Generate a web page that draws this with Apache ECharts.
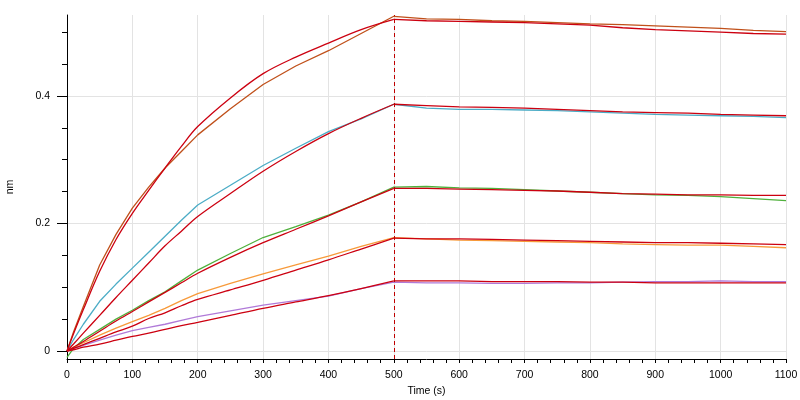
<!DOCTYPE html>
<html>
<head>
<meta charset="utf-8">
<script src="https://cdn.jsdelivr.net/npm/echarts@6/dist/echarts.min.js"></script>
<style>html,body{margin:0;padding:0;background:#fff}#chart{width:800px;height:400px}</style>
</head>
<body>
<div id="chart"></div>
<script>
// Time points (s)
var time = [0,10,25,50,75,100,125,150,175,200,250,300,350,400,450,500,550,600,650,700,750,800,850,900,950,1000,1050,1100];

// Measured responses (nm)
var meas1 = [0,0.030,0.070,0.135,0.183,0.224,0.257,0.287,0.313,0.339,0.380,0.418,0.447,0.471,0.498,0.525,0.521,0.520,0.518,0.517,0.515,0.513,0.512,0.510,0.508,0.506,0.503,0.501];
var meas2 = [0,0.018,0.042,0.078,0.105,0.130,0.155,0.180,0.205,0.229,0.260,0.291,0.318,0.344,0.364,0.387,0.381,0.379,0.379,0.378,0.377,0.375,0.373,0.371,0.370,0.369,0.368,0.366];
var meas3 = [-0.010,0.004,0.018,0.034,0.050,0.064,0.079,0.093,0.110,0.127,0.153,0.178,0.195,0.213,0.234,0.257,0.258,0.256,0.255,0.253,0.251,0.249,0.247,0.245,0.244,0.242,0.239,0.236];
var meas4 = [0,0.006,0.013,0.025,0.036,0.046,0.056,0.067,0.079,0.090,0.106,0.121,0.135,0.149,0.164,0.178,0.176,0.174,0.173,0.172,0.171,0.170,0.168,0.167,0.166,0.166,0.164,0.162];
var meas5 = [0,0.004,0.009,0.017,0.025,0.032,0.037,0.042,0.048,0.054,0.063,0.072,0.079,0.086,0.098,0.108,0.107,0.107,0.106,0.106,0.107,0.107,0.108,0.109,0.109,0.110,0.109,0.109];

// Fitted curves (nm)
var fit1 = [0,0.027,0.065,0.125,0.175,0.216,0.252,0.287,0.321,0.352,0.397,0.435,0.461,0.483,0.504,0.520,0.518,0.517,0.516,0.515,0.513,0.511,0.507,0.504,0.502,0.500,0.498,0.497];
var fit2 = [0,0.011,0.028,0.056,0.084,0.111,0.138,0.165,0.188,0.211,0.247,0.282,0.313,0.341,0.365,0.387,0.385,0.383,0.382,0.381,0.379,0.377,0.375,0.374,0.373,0.371,0.370,0.369];
var fit3 = [0,0.006,0.015,0.031,0.047,0.062,0.077,0.092,0.107,0.122,0.147,0.170,0.191,0.212,0.234,0.255,0.255,0.254,0.253,0.252,0.251,0.249,0.247,0.246,0.245,0.245,0.244,0.244];
var fit4 = [0,0.004,0.010,0.020,0.030,0.039,0.051,0.060,0.071,0.081,0.096,0.111,0.127,0.143,0.160,0.177,0.176,0.176,0.175,0.174,0.173,0.172,0.171,0.170,0.170,0.169,0.168,0.167];
var fit5 = [0,0.002,0.006,0.011,0.017,0.023,0.028,0.034,0.040,0.045,0.056,0.067,0.077,0.087,0.098,0.110,0.110,0.110,0.109,0.109,0.109,0.108,0.108,0.107,0.107,0.107,0.107,0.107];

// Axis ticks
var yMajorTicks = [0, 0.2, 0.4];
var yMinorTicks = [0,0.05,0.1,0.15,0.2,0.25,0.3,0.35,0.4,0.45,0.5];
var switchTime = 500;

var measColors = ['#c0501a','#4bacc6','#4fb03c','#f79a3a','#b07ad8'];
var fitColor = '#cc0010';

var switchIdx = time.indexOf(switchTime);
function pairs(vals, from, to){
  var out = [];
  for (var i = from; i <= to; i++) out.push([time[i], vals[i]]);
  return out;
}

var measured = [meas1, meas2, meas3, meas4, meas5];
var fits = [fit1, fit2, fit3, fit4, fit5];
var series = [];
measured.forEach(function(m, i){
  series.push({type:'line', data:pairs(m, 0, time.length-1), showSymbol:false, symbol:'none', silent:true, clip:false,
    lineStyle:{color:measColors[i], width:1.3}, z:2});
});
fits.forEach(function(f, i){
  var assoc = {type:'line', data:pairs(f, 0, switchIdx), showSymbol:false, symbol:'none', silent:true, clip:false,
    smooth:0.35, lineStyle:{color:fitColor, width:1.3}, z:3};
  var dissoc = {type:'line', data:pairs(f, switchIdx, time.length-1), showSymbol:false, symbol:'none', silent:true, clip:false,
    lineStyle:{color:fitColor, width:1.3}, z:3};
  if (i === 0) {
    assoc.markLine = {silent:true, symbol:['none','none'], label:{show:false},
      lineStyle:{color:'#c00000', type:[4,3], width:1},
      data:[{xAxis: switchTime}]};
  }
  series.push(assoc, dissoc);
});

var font = 'Liberation Sans, Arial, sans-serif';
var chart = echarts.init(document.getElementById('chart'), null, {renderer:'canvas'});
chart.setOption({
  animation:false,
  backgroundColor:'#ffffff',
  grid:{left:67, right:14, top:15, bottom:41, containLabel:false, outerBoundsMode:'none'},
  xAxis:{
    type:'value', min:0, max:1100, interval:100,
    name:'Time (s)', nameLocation:'middle', nameGap:27,
    nameTextStyle:{color:'#000', fontSize:10.5, fontFamily:font},
    axisLine:{show:true, onZero:false, lineStyle:{color:'#000', width:1}},
    axisTick:{show:true, length:4, lineStyle:{color:'#000'}},
    minorTick:{show:true, splitNumber:5, length:4, lineStyle:{color:'#000'}},
    axisLabel:{color:'#000', fontSize:10.5, fontFamily:font, margin:11,
      formatter:function(v){ return String(v); }},
    splitLine:{show:true, lineStyle:{color:'#e3e3e3', width:1}},
    minorSplitLine:{show:false}
  },
  yAxis:[{
    type:'value', min:-0.0125, max:0.527,
    name:'nm', nameLocation:'middle', nameGap:51, nameRotate:90,
    nameTextStyle:{color:'#000', fontSize:10.5, fontFamily:font},
    axisLine:{show:true, lineStyle:{color:'#000', width:1}},
    axisTick:{show:true, length:10, customValues:yMajorTicks, lineStyle:{color:'#000'}},
    axisLabel:{color:'#000', fontSize:10.5, fontFamily:font, margin:17, customValues:yMajorTicks,
      formatter:function(v){ return String(Math.round(v*10)/10); }},
    splitLine:{show:true, lineStyle:{color:'#e3e3e3', width:1}}
  },{
    type:'value', min:-0.0125, max:0.527, position:'left',
    axisLine:{show:false},
    axisTick:{show:true, length:5, customValues:yMinorTicks, lineStyle:{color:'#000'}},
    axisLabel:{show:false},
    splitLine:{show:false}
  }],
  series:series
});
</script>
</body>
</html>
